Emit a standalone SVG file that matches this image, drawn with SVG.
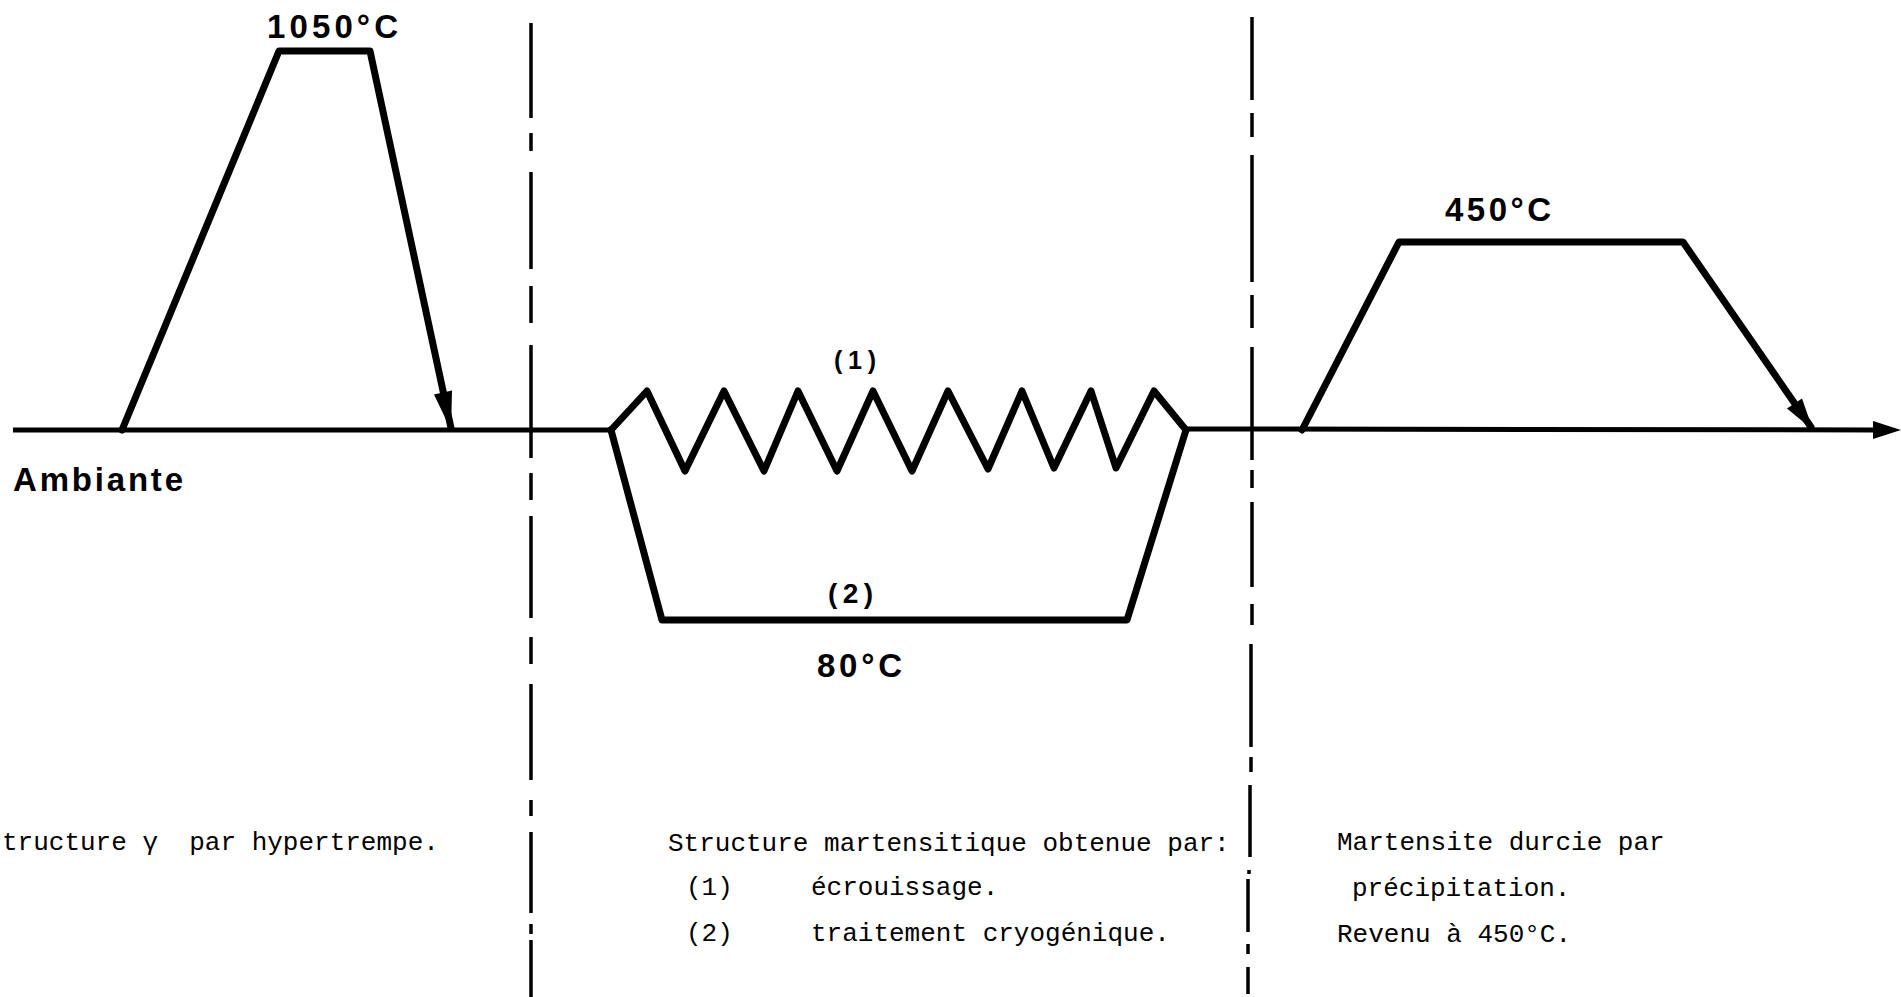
<svg xmlns="http://www.w3.org/2000/svg" width="1901" height="997" viewBox="0 0 1901 997">
<style>
.bg{fill:#fff}
.thick{fill:none;stroke:#000;stroke-width:7;stroke-linejoin:round;stroke-linecap:round}
.axis{fill:none;stroke:#000;stroke-width:5}
.dash{fill:none;stroke:#000;stroke-width:3.5}
.head{fill:#000;stroke:none}
.lbl{font-family:"Liberation Sans",Arial,sans-serif;font-weight:bold;fill:#000}
.tw{font-family:"Liberation Mono","DejaVu Sans Mono",monospace;font-size:26px;fill:#000}
</style>
<rect class="bg" x="0" y="0" width="1901" height="997"/>
<g id="connectors">
  <path id="axis-left" class="axis" d="M13,430 L611,430"/>
  <path id="axis-right" class="axis" d="M1186,429 L1878,430"/>
  <polygon id="axis-arrow" class="head" points="1873,421 1901,430 1873,439"/>
  <path id="divider-1" class="dash" d="M531,23 V118 M531,133 V151 M531,172 V269 M531,286 V323 M531,345 V458 M531,473 V500 M531,516 V618 M531,637 V664 M531,684 V780 M531,800 V816 M531,832 V913 M531,924 V934 M531,940 V997"/>
  <path id="divider-2" class="dash" d="M1252,17 V100 M1252,113 V137 M1252,155 V282 M1252,295 V328 M1252,347 V460 M1252,470 V488 M1252,502 V587 M1252,604 V625 M1251,644 V747 M1251,757 V772 M1250,785 V857 M1249,870 V874 M1248,879 V932 M1248,944 V954 M1248,967 V994"/>
</g>
<g id="hypertrempe">
  <path class="thick" d="M122,430 L279,51 L370,51 L451,428"/>
  <polygon class="head" points="434,394.5 452,390.5 451,430"/>
  <text class="lbl" x="267" y="38" font-size="33" textLength="131" lengthAdjust="spacing">1050°C</text>
</g>
<g id="ambiante">
  <text class="lbl" x="13" y="491" font-size="33" textLength="170" lengthAdjust="spacing">Ambiante</text>
</g>
<g id="ecrouissage">
  <path class="thick" d="M611,430 L647,391 L685,471 L724,391 L764,471 L798,391 L837,471 L873,391 L912,471 L948,391 L988,469 L1022,391 L1054,468 L1091,391 L1116,468 L1154,391 L1186,430"/>
  <text class="lbl" x="834" y="369" font-size="25" textLength="42" lengthAdjust="spacing">(1)</text>
</g>
<g id="cryogenique">
  <path class="thick" d="M611,430 L662,620 L1127,620 L1186,430"/>
  <text class="lbl" x="828" y="603" font-size="28" textLength="45" lengthAdjust="spacing">( 2 )</text>
  <text class="lbl" x="817" y="677" font-size="33" textLength="85" lengthAdjust="spacing">80°C</text>
</g>
<g id="revenu">
  <path class="thick" d="M1302,430 L1399,242 L1683,242 L1811,427"/>
  <polygon class="head" points="1787,408.5 1802,398.5 1813,430"/>
  <text class="lbl" x="1445" y="221" font-size="33" textLength="106" lengthAdjust="spacing">450°C</text>
</g>
<g id="caption-left">
  <text class="tw" x="2" y="850" xml:space="preserve">tructure γ  par hypertrempe.</text>
</g>
<g id="caption-middle">
  <text class="tw" x="668" y="851">Structure martensitique obtenue par:</text>
  <text class="tw" x="686" y="895">(1)</text>
  <text class="tw" x="811" y="895">écrouissage.</text>
  <text class="tw" x="686" y="941">(2)</text>
  <text class="tw" x="811" y="941">traitement cryogénique.</text>
</g>
<g id="caption-right">
  <text class="tw" x="1337" y="850">Martensite durcie par</text>
  <text class="tw" x="1352" y="896">précipitation.</text>
  <text class="tw" x="1337" y="942">Revenu à 450°C.</text>
</g>
</svg>
